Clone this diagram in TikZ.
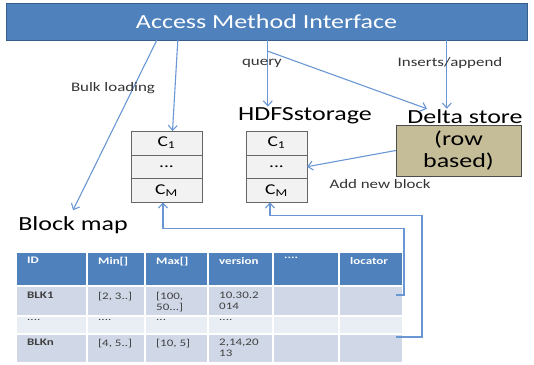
\documentclass[tikz,border=0pt]{standalone}
\usepackage{fontspec}
\setmainfont{Carlito}[FakeStretch=1.3]
\usetikzlibrary{positioning,calc,arrows.meta}

\definecolor{amiblue}{HTML}{4F81BD}
\definecolor{amiedge}{HTML}{385D8A}
\definecolor{rowblue}{HTML}{D0D8E8}
\definecolor{rowpale}{HTML}{E9EDF4}
\definecolor{linkblue}{HTML}{6A97D4}
\definecolor{deltafill}{HTML}{C4BD97}
\definecolor{cellgrey}{HTML}{F2F2F2}
\definecolor{tabtext}{HTML}{404040}

\newcommand{\fourdots}{....}
\newcommand{\threedots}{...}

\tikzset{
  link/.style={draw=linkblue, line width=1.1pt, -{Straight Barb[length=5pt,width=9pt]}},
  bigtxt/.style={font=\fontsize{20}{22}\selectfont, inner sep=1pt},
  smalltxt/.style={font=\fontsize{13}{15}\selectfont, text=black!80, inner sep=1pt},
  colcell/.style={draw=black!60, fill=cellgrey, minimum height=23.7pt, inner sep=0pt, outer sep=0pt, font=\fontsize{15}{17}\selectfont},
  tabcell/.style={draw=white, line width=1.5pt, anchor=north west, inner sep=0pt, outer sep=0pt},
  tabtxt/.style={anchor=north west, align=left, inner sep=0pt, text=tabtext, font=\fontsize{10}{11}\selectfont},
  tabhd/.style={tabtxt, text=white, font=\fontsize{10}{11}\selectfont\bfseries}
}

\begin{document}
\begin{tikzpicture}[x=1pt,y=-1pt]
\useasboundingbox (0,0) rectangle (534,364);

% interface bar
\node[draw=amiedge, fill=amiblue, minimum width=521pt, minimum height=37pt, bigtxt, text=white] (ami) at (266.5,21.5) {Access Method Interface};

% column stores
\node[colcell, minimum width=71pt] (lc1) at (166.5,143) {C\textsubscript{1}};
\node[colcell, minimum width=71pt, below=0pt of lc1] (lc2) {...};
\node[colcell, minimum width=71pt, below=0pt of lc2] (lc3) {C\textsubscript{M}};

\node[colcell, minimum width=61pt] (rc1) at (276.5,143) {C\textsubscript{1}};
\node[colcell, minimum width=61pt, below=0pt of rc1] (rc2) {...};
\node[colcell, minimum width=61pt, below=0pt of rc2] (rc3) {C\textsubscript{M}};

\node[bigtxt] (hdfs) at (305,116) {HDFSstorage};
\node[bigtxt] (dlabel) at (465,117) {Delta store};
\node[draw=black!70, fill=deltafill, minimum width=125pt, minimum height=51pt, bigtxt, align=center] (dbox) at (458.5,150.5) {(row\\based)};

\node[bigtxt] (bmap) at (73,225) {Block map};

% block map table
\foreach \cx/\cw/\txt [count=\i] in {16/71/ID, 87/58/{Min[]}, 145/63/{Max[]}, 208/65/version, 273/66/\fourdots, 339/64/locator} {
  \node[tabcell, fill=amiblue, minimum width=\cw pt, minimum height=34pt] (hd\i) at (\cx,252) {};
  \node[tabhd] at ([xshift=11pt,yshift=-5pt]hd\i.north west) {\txt};
}
\foreach \cx/\cw/\txt [count=\i] in {16/71/BLK1, 87/58/{[2, 3..]}, 145/63/{[100,\\50\threedots]}, 208/65/{10.30.2\\014}, 273/66/{}, 339/64/{}} {
  \node[tabcell, fill=rowblue, minimum width=\cw pt, minimum height=30pt] (ta\i) at (\cx,286) {};
  \node[tabtxt] at ([xshift=11pt,yshift=-6pt]ta\i.north west) {\ifnum\i=1 \bfseries\fi\txt};
}
\foreach \cx/\cw/\txt [count=\i] in {16/71/\fourdots, 87/58/\fourdots, 145/63/\threedots, 208/65/\fourdots, 273/66/{}, 339/64/{}} {
  \node[tabcell, fill=rowpale, minimum width=\cw pt, minimum height=18pt] (tb\i) at (\cx,316) {};
  \node[tabtxt] at ([xshift=11pt,yshift=-3pt]tb\i.north west) {\txt};
}
\foreach \cx/\cw/\txt [count=\i] in {16/71/BLKn, 87/58/{[4, 5..]}, 145/63/{[10, 5]}, 208/65/{2,14,20\\13}, 273/66/{}, 339/64/{}} {
  \node[tabcell, fill=rowblue, minimum width=\cw pt, minimum height=29pt] (tn\i) at (\cx,334) {};
  \node[tabtxt] at ([xshift=11pt,yshift=-5pt]tn\i.north west) {\ifnum\i=1 \bfseries\fi\txt};
}

% connectors
\coordinate (bulk) at ([xshift=151pt]ami.south west);
\coordinate (scan) at ([xshift=172pt]ami.south west);
\coordinate (qry) at ([xshift=262pt]ami.south west);
\coordinate (ins) at ([xshift=441pt]ami.south west);
\draw[link] (bulk) -- ([yshift=5pt]bmap.north);
\draw[link] (scan) -- ([xshift=6pt]lc1.north);
\draw[link] (qry) -- (qry |- hdfs.north);
\draw[link] ([yshift=-11pt]qry) -- ([xshift=-38pt]dlabel.north);
\draw[link] (ins) -- (ins |- dlabel.north);
\draw[link] (dbox.west) -- (rc2.east);

\coordinate (tapa) at ([xshift=-7pt,yshift=-9pt]ta6.north east);
\coordinate (tapn) at ([xshift=-7pt,yshift=-3pt]tn6.north east);
\draw[link] (tapa) -- ++(8,0) |- ([xshift=-3.5pt,yshift=-26pt]lc3.south) -- ([xshift=-3.5pt]lc3.south);
\draw[link] (tapn) -- ++(26,0) |- ([xshift=-6.5pt,yshift=-13pt]rc3.south) -- ([xshift=-6.5pt]rc3.south);

\node[smalltxt] (qlab) at (262,63) {query};
\node[smalltxt] (ilab) at (450,63) {Inserts/append};
\node[smalltxt] (blab) at (113,88) {Bulk loading};
\node[smalltxt] (alab) at (380,184) {Add new block};

\end{tikzpicture}
\end{document}
